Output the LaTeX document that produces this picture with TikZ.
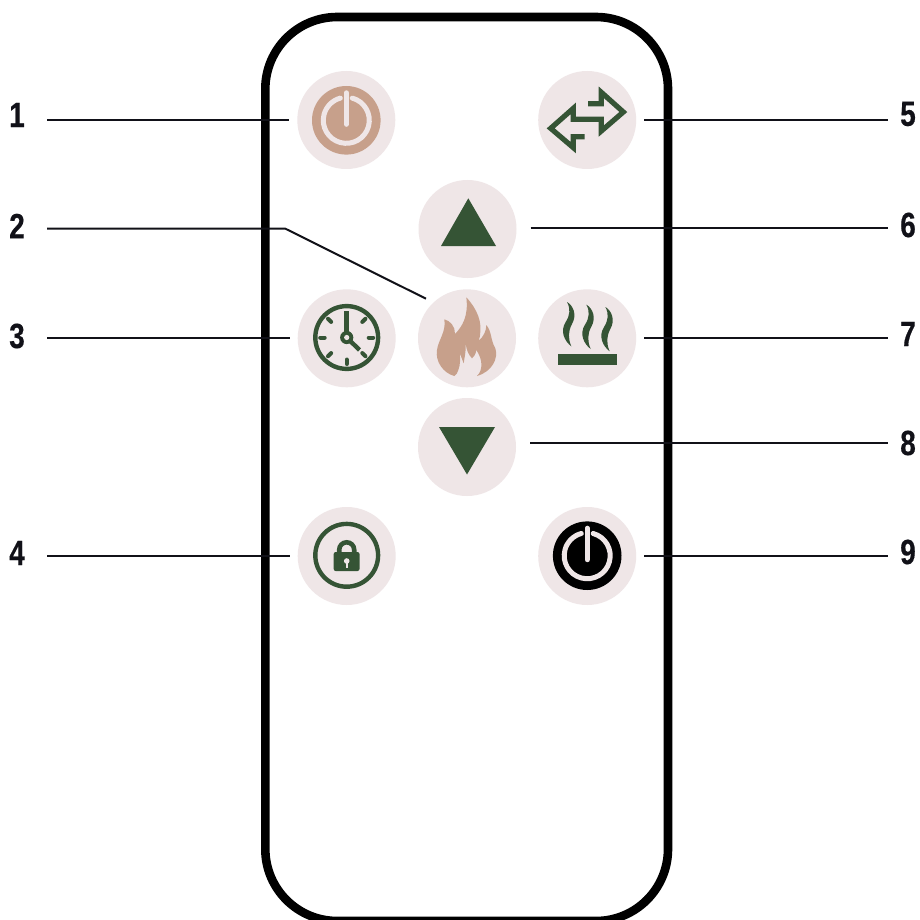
\documentclass[tikz,border=0pt]{standalone}
\usepackage{fontspec}
\newfontfamily\numfont[FakeStretch=0.8,FakeBold=0.4]{Liberation Sans}
\definecolor{btnbg}{HTML}{EFE6E7}
\definecolor{tanc}{HTML}{C7A08B}
\definecolor{leaf}{HTML}{355435}
\definecolor{ink}{HTML}{111118}
\tikzset{
  btn/.style={circle,fill=btnbg,minimum size=98pt,inner sep=0pt,outer sep=8pt},
  btnmid/.style={btn,outer sep=14pt},
  numlab/.style={font=\numfont\bfseries\fontsize{35}{35}\selectfont,text=ink,inner sep=0pt,minimum width=20pt,align=center},
  numleft/.style={numlab,outer xsep=20pt},
  numright/.style={numlab,outer xsep=10pt},
  leader/.style={draw=ink,line width=2pt},
  glyphline/.style={draw=leaf,line width=4.4pt},
  powerring/.style={draw=btnbg,line width=5pt,line cap=round},
}
\newcommand{\powerglyph}[3]{%
  \fill[#3] (#1,#2) circle[radius=34.3pt];
  \draw[powerring] (#1+5.95,#2-22.2) arc[start angle=75,end angle=-255,radius=23pt];
  \draw[powerring] (#1,#2-27.5) -- (#1,#2+4);
}
\begin{document}
\begin{tikzpicture}[x=1pt,y=-1pt]
\clip (0,0) rectangle (919,920);
\fill[white] (0,0) rectangle (919,920);
% remote body
\draw[black,line width=8.6pt,rounded corners=72pt] (265.3,17) rectangle (668,921);
% buttons
\node[btn] (b1) at (346.3,120) {};
\node[btn] (b5) at (587.2,120) {};
\node[btnmid] (b6) at (467.5,229) {};
\node[btn] (b3) at (346.7,338.3) {};
\node[btn] (b2) at (467,338.3) {};
\node[btn] (b7) at (587.2,338.3) {};
\node[btnmid] (b8) at (467,447) {};
\node[btn] (b4) at (346.7,556) {};
\node[btn] (b9) at (587.2,556) {};
% numbers
\node[numleft] (n1) at (17,115) {1};
\node[numleft] (n2) at (17,226) {2};
\node[numleft] (n3) at (17,336) {3};
\node[numleft] (n4) at (17,553) {4};
\node[numright] (n5) at (908,114) {5};
\node[numright] (n6) at (908,225) {6};
\node[numright] (n7) at (908,334) {7};
\node[numright] (n8) at (908,443) {8};
\node[numright] (n9) at (908,552) {9};
% connectors
\coordinate (k2) at (285,228.5);
\draw[leader] (n1.east |- b1) -- (b1.west);
\draw[leader] (n2.east |- k2) -- (k2) -- (b2.136);
\draw[leader] (n3.east |- b3) -- (b3.west);
\draw[leader] (n4.east |- b4) -- (b4.west);
\draw[leader] (b5.east) -- (b5.east -| n5.west);
\draw[leader] ([yshift=1pt]b6.east) -- ([yshift=1pt]b6.east -| n6.west);
\draw[leader] (b7.east) -- (b7.east -| n7.west);
\draw[leader] ([yshift=4pt]b8.east) -- ([yshift=4pt]b8.east -| n8.west);
\draw[leader] (b9.east) -- (b9.east -| n9.west);
% power glyphs
\powerglyph{346.3}{120.3}{tanc}
\powerglyph{587.2}{555.7}{black}
% swap arrows
\begin{scope}[shift={(548,80)},scale=1/3]
\draw[leaf,line width=5.2pt,miter limit=10]
  (120,71) -- (160,71) -- (160,37) -- (226,96) -- (160,153) -- (160,118)
  -- (76,118) -- (76,85) -- (8,145) -- (76,203) -- (76,170) -- (110,170);
\end{scope}
% triangles
\fill[leaf] (468.3,198.3) -- (496,246) -- (441,246) -- cycle;
\fill[leaf] (467,474.5) -- (495,427) -- (439,427) -- cycle;
% clock
\draw[glyphline] (346.7,337.5) circle[radius=31.4pt];
\draw[draw=leaf,line width=4.6pt] (346.7,337.5) -- (346.7,311);
\draw[glyphline] (346.7,337.5) -- (359.5,350);
\foreach \a in {0,45,135,180,225,270,315}{
  \draw[glyphline,line cap=round,line width=4pt]
    ([shift={(\a:22pt)}]346.7,337.5) -- ([shift={(\a:26.5pt)}]346.7,337.5);
}
\fill[leaf] (346.7,337.5) circle[radius=6.6pt];
\fill[btnbg] (346.7,337.5) circle[radius=2.6pt];
% flame
\begin{scope}[shift={(427,290)},scale=1/3]
\fill[tanc] (118,22) .. controls (135,40) and (165,80) .. (160,125)
  .. controls (160,135) and (158,145) .. (155,152)
  .. controls (170,140) and (178,122) .. (178,105)
  .. controls (195,125) and (190,150) .. (205,175)
  .. controls (215,205) and (195,245) .. (150,258)
  .. controls (168,240) and (168,210) .. (148,180)
  .. controls (146,195) and (140,200) .. (135,205)
  .. controls (125,195) and (118,180) .. (116,160)
  .. controls (118,180) and (112,205) .. (110,220)
  .. controls (106,210) and (103,200) .. (98,190)
  .. controls (100,205) and (100,225) .. (94,240)
  .. controls (92,248) and (88,254) .. (82,258)
  .. controls (50,250) and (24,215) .. (30,180)
  .. controls (34,150) and (58,125) .. (52,88)
  .. controls (70,92) and (85,110) .. (84,132)
  .. controls (105,110) and (125,80) .. (118,22) -- cycle;
\end{scope}
% heat
\fill[leaf] (558,354) rectangle (617,365);
\begin{scope}[shift={(548,298)},scale=1/3]
\foreach \dx/\dy in {0/0,58/8,115/15}{
\fill[leaf,shift={(\dx,\dy)}] (57,12) .. controls (75,22) and (88,50) .. (72,78)
  .. controls (60,100) and (60,122) .. (70,145)
  .. controls (50,130) and (35,100) .. (53,72)
  .. controls (66,52) and (68,32) .. (57,12) -- cycle;
}
\end{scope}
% lock
\draw[glyphline] (346.7,555.3) circle[radius=31.4pt];
\draw[draw=leaf,line width=4.6pt] (339.2,554) -- (339.2,549.8) arc[start angle=180,end angle=0,radius=7.5pt] -- (354.2,554);
\fill[leaf,rounded corners=2pt] (333.7,552) rectangle (359.5,571);
\fill[btnbg] (346.7,561) circle[radius=2.8pt];
\fill[btnbg] (345.5,561) rectangle (347.9,568);
\end{tikzpicture}
\end{document}
